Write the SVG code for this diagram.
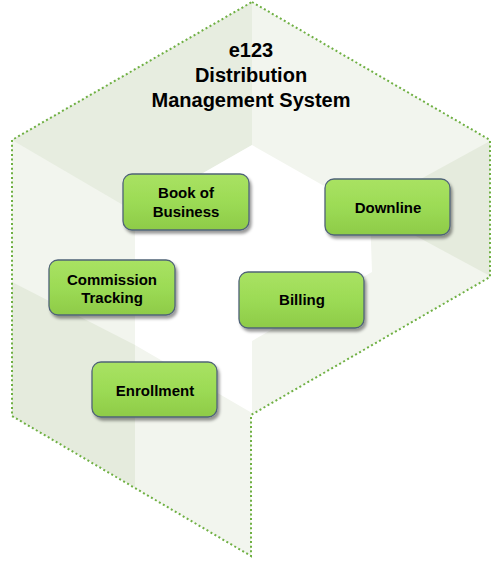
<svg xmlns="http://www.w3.org/2000/svg" width="502" height="561" viewBox="0 0 502 561">
<style>
.title{font-family:"Liberation Sans",Arial,sans-serif;font-weight:bold;font-size:20px;fill:#000;text-anchor:middle}
.lbl{font-family:"Liberation Sans",Arial,sans-serif;font-weight:bold;font-size:15px;fill:#000;text-anchor:middle}
.box{fill:url(#g);stroke:#4f6377;stroke-width:1.3;filter:url(#sh)}
.hl{fill:none;stroke:#c4ef8c;stroke-width:1.5;opacity:0.8}
.outline{fill:none;stroke:#6fb043;stroke-width:2;stroke-dasharray:2 2.6}
</style>
<defs>
<linearGradient id="g" x1="0" y1="0" x2="0" y2="1">
<stop offset="0" stop-color="#a9e263"/>
<stop offset="0.5" stop-color="#9cdb55"/>
<stop offset="1" stop-color="#8ecb48"/>
</linearGradient>
<filter id="sh" x="-10%" y="-10%" width="125%" height="135%">
<feDropShadow dx="2" dy="3" stdDeviation="1.6" flood-color="#000" flood-opacity="0.4"/>
</filter>
</defs>
<rect width="502" height="561" fill="#fff"/>
<g id="background">
<polygon points="252,2 490,140 490,277 251,415 251,556 12,416 12,140" fill="#f2f5ee"/>
<polygon points="252,2 252,145 135,212 12,140" fill="#e7ede0"/>
<polygon points="490,141 366,209 490,276" fill="#e5ebdd"/>
<polygon points="12,282 135,345 135,487 12,416" fill="#e5ebdd"/>
<polygon points="252,145 370,212 372,272 252,341 252,413 135,345 135,212" fill="#ffffff"/>
<polygon class="outline" points="252,2 490,140 490,277 251,415 251,556 12,416 12,140"/>
</g>
<g id="title">
<text class="title" x="251" y="57">e123</text>
<text class="title" x="251" y="82">Distribution</text>
<text class="title" x="251" y="107">Management System</text>
</g>
<g id="connectors"></g>
<g id="node-book">
<rect class="box" x="123" y="174" width="126" height="56" rx="9"/>
<text class="lbl" x="186" y="198">Book of</text>
<text class="lbl" x="186" y="217">Business</text>
</g>
<g id="node-downline">
<rect class="box" x="325" y="179" width="125" height="56" rx="9"/>
<text class="lbl" x="388" y="213">Downline</text>
</g>
<g id="node-commission">
<rect class="box" x="49" y="260" width="126" height="55" rx="9"/>
<text class="lbl" x="112" y="285">Commission</text>
<text class="lbl" x="112" y="303">Tracking</text>
</g>
<g id="node-billing">
<rect class="box" x="239" y="272" width="125" height="56" rx="9"/>
<text class="lbl" x="302" y="305">Billing</text>
</g>
<g id="node-enrollment">
<rect class="box" x="92" y="362" width="125" height="55" rx="9"/>
<text class="lbl" x="155" y="396">Enrollment</text>
</g>
</svg>
